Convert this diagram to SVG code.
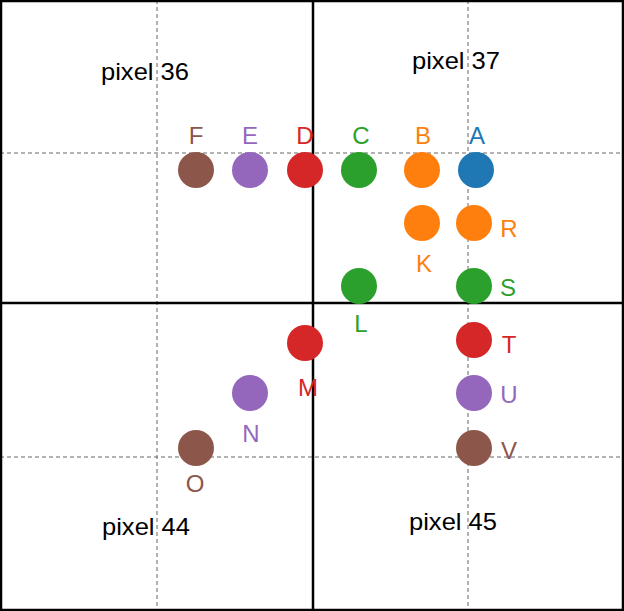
<svg xmlns="http://www.w3.org/2000/svg" width="624" height="611" viewBox="0 0 624 611">
<style>
text{font-family:"Liberation Sans",Arial,sans-serif;font-size:24px;text-anchor:middle}
.d{stroke:#666;stroke-width:1;stroke-dasharray:4,3;fill:none}
.t{stroke:#000;stroke-width:2.5;fill:none}
</style>
<rect x="0" y="0" width="624" height="611" fill="#fff"/>
<g id="grid">
<line class="d" x1="157" y1="0" x2="157" y2="611"/>
<line class="d" x1="468" y1="0" x2="468" y2="611"/>
<line class="d" x1="0" y1="153" x2="624" y2="153"/>
<line class="d" x1="0" y1="457" x2="624" y2="457"/>
<line class="t" x1="313" y1="0" x2="313" y2="611"/>
<line class="t" x1="0" y1="303" x2="624" y2="303"/>
<rect x="1" y="1" width="622" height="609" class="t" stroke-width="2"/>
</g>
<g id="pixels">
<text x="145" y="80" textLength="88" lengthAdjust="spacingAndGlyphs">pixel 36</text>
<text x="456" y="69" textLength="88" lengthAdjust="spacingAndGlyphs">pixel 37</text>
<text x="146" y="535" textLength="88" lengthAdjust="spacingAndGlyphs">pixel 44</text>
<text x="453" y="530" textLength="88" lengthAdjust="spacingAndGlyphs">pixel 45</text>
</g>
<g id="F"><circle cx="196" cy="170" r="18" fill="#8c564b"/><text x="196" y="144" fill="#8c564b">F</text></g>
<g id="E"><circle cx="250" cy="170" r="18" fill="#9467bd"/><text x="250" y="144" fill="#9467bd">E</text></g>
<g id="D"><circle cx="305" cy="170" r="18" fill="#d62728"/><text x="305" y="144" fill="#d62728">D</text></g>
<g id="C"><circle cx="359" cy="170" r="18" fill="#2ca02c"/><text x="361" y="144" fill="#2ca02c">C</text></g>
<g id="B"><circle cx="422" cy="170" r="18" fill="#ff7f0e"/><text x="423" y="144" fill="#ff7f0e">B</text></g>
<g id="A"><circle cx="476" cy="170" r="18" fill="#1f77b4"/><text x="477" y="144" fill="#1f77b4">A</text></g>
<g id="K"><circle cx="422" cy="223" r="18" fill="#ff7f0e"/><text x="424" y="272" fill="#ff7f0e">K</text></g>
<g id="R"><circle cx="474" cy="223" r="18" fill="#ff7f0e"/><text x="509" y="237" fill="#ff7f0e">R</text></g>
<g id="L"><circle cx="359" cy="286" r="18" fill="#2ca02c"/><text x="361" y="332" fill="#2ca02c">L</text></g>
<g id="S"><circle cx="474" cy="286" r="18" fill="#2ca02c"/><text x="508" y="296" fill="#2ca02c">S</text></g>
<g id="M"><circle cx="305" cy="343" r="18" fill="#d62728"/><text x="308" y="396" fill="#d62728">M</text></g>
<g id="T"><circle cx="474" cy="340" r="18" fill="#d62728"/><text x="509" y="353" fill="#d62728">T</text></g>
<g id="N"><circle cx="250" cy="393" r="18" fill="#9467bd"/><text x="251" y="442" fill="#9467bd">N</text></g>
<g id="U"><circle cx="474" cy="393" r="18" fill="#9467bd"/><text x="509" y="403" fill="#9467bd">U</text></g>
<g id="O"><circle cx="196" cy="448" r="18" fill="#8c564b"/><text x="195" y="492" fill="#8c564b">O</text></g>
<g id="V"><circle cx="474" cy="448" r="18" fill="#8c564b"/><text x="509" y="459" fill="#8c564b">V</text></g>
<g id="connectors"></g>
</svg>
